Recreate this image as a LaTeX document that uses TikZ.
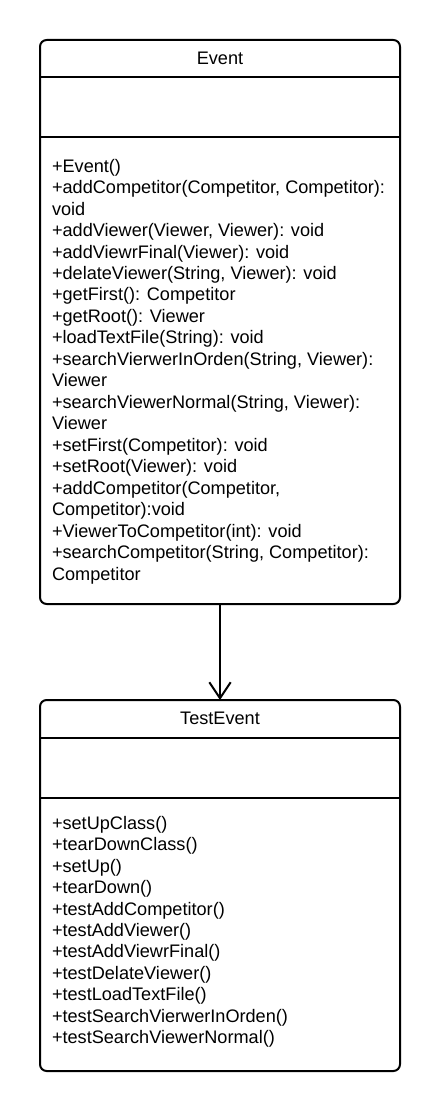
\documentclass[tikz,border=0pt]{standalone}
\usepackage{fontspec}
\setmainfont{Liberation Sans}
\usetikzlibrary{arrows.meta}
\usetikzlibrary{positioning}

\begin{document}
\begin{tikzpicture}[x=0.75pt, y=-0.75pt, every node/.style={inner sep=0,outer sep=0}]
        % Styles
        \tikzset{
          classbox/.style={draw, line width=1.5pt, rounded corners=5pt, minimum width=270pt, anchor=north west},
          divider/.style={line width=1.5pt},
          classname/.style={font=\fontsize{13.6}{16.1}\selectfont},
          members/.style={align=left, anchor=north west, font=\fontsize{13.6}{16.1}\selectfont},
        }
        \useasboundingbox (0,0) rectangle (440,1112);

        % Event class
        \node[classbox, minimum height=423pt] (event) at (40,40) {};
        \draw[divider] (40,77.5) -- (400,77.5);
        \draw[divider] (40,137.5) -- (400,137.5);
        \node[classname] (event_name) at (220,58) {Event};
        \node[members] (event_ops) at (52,159) {+Event()\\
          +addCompetitor(Competitor, Competitor):\\
          void\\
          +addViewer(Viewer, Viewer): void\\
          +addViewrFinal(Viewer): void\\
          +delateViewer(String, Viewer): void\\
          +getFirst(): Competitor\\
          +getRoot(): Viewer\\
          +loadTextFile(String): void\\
          +searchVierwerInOrden(String, Viewer):\\
          Viewer\\
          +searchViewerNormal(String, Viewer):\\
          Viewer\\
          +setFirst(Competitor): void\\
          +setRoot(Viewer): void\\
          +addCompetitor(Competitor,\\
          Competitor):void\\
          +ViewerToCompetitor(int): void\\
          +searchCompetitor(String, Competitor):\\
          Competitor};

        % TestEvent class
        \node[classbox, minimum height=278.25pt, below=72pt of event] (test_event) {};
        \draw[divider] (40,737.5) -- (400,737.5);
        \draw[divider] (40,797.5) -- (400,797.5);
        \node[classname] (test_name) at (220,718) {TestEvent};
        \node[members] (test_ops) at (52,816) {+setUpClass()\\
          +tearDownClass()\\
          +setUp()\\
          +tearDown()\\
          +testAddCompetitor()\\
          +testAddViewer()\\
          +testAddViewrFinal()\\
          +testDelateViewer()\\
          +testLoadTextFile()\\
          +testSearchVierwerInOrden()\\
          +testSearchViewerNormal()};

        % Dependency arrow
        \draw[line width=1.5pt, -{Straight Barb[length=12pt, width=16pt]}] (event.south) -- (test_event.north);
      \end{tikzpicture}
\end{document}
